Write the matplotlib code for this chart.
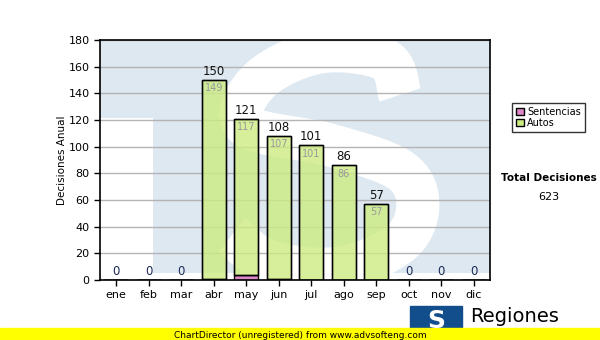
import matplotlib.pyplot as plt
import numpy as np
from matplotlib.patches import Rectangle

# Monthly data
meses = ['ene', 'feb', 'mar', 'abr', 'may', 'jun', 'jul', 'ago', 'sep', 'oct', 'nov', 'dic']
sentencias = [0, 0, 0, 1, 4, 1, 0, 0, 0, 0, 0, 0]
autos = [0, 0, 0, 149, 117, 107, 101, 86, 57, 0, 0, 0]
con_datos = [False, False, False, True, True, True, True, True, True, False, False, False]

totales = [s + a for s, a in zip(sentencias, autos)]
total_decisiones = sum(totales)

fig = plt.figure(figsize=(6, 3.4), dpi=100)
ax = fig.add_axes([100 / 600, 60 / 340, 390 / 600, 240 / 340])

# watermark logo (light blue square with a white S)
wm = '#dde8f1'
ax.add_patch(Rectangle((0, 0.03), 1, 0.97, transform=ax.transAxes, color=wm, zorder=0, lw=0))
ax.add_patch(Rectangle((0, 0), 0.136, 0.675, transform=ax.transAxes, color='white', zorder=0, lw=0))
pts = np.array([(0.769, 0.771), (0.731, 0.917), (0.564, 0.95), (0.410, 0.833), (0.372, 0.646),
                (0.590, 0.5625), (0.769, 0.458), (0.815, 0.3125), (0.769, 0.154), (0.615, 0.05),
                (0.436, 0.075), (0.338, 0.1875)])
tt = np.linspace(0, len(pts) - 1, 300)

# smooth curve via catmull-rom
def cr(p, tt):
    p = np.vstack([p[0], p, p[-1]])
    out = []
    for v in tt:
        i = min(int(v), len(p) - 4)
        u = v - i
        p0, p1, p2, p3 = p[i], p[i + 1], p[i + 2], p[i + 3]
        out.append(0.5 * ((2 * p1) + (-p0 + p2) * u + (2 * p0 - 5 * p1 + 4 * p2 - p3) * u ** 2
                          + (-p0 + 3 * p1 - 3 * p2 + p3) * u ** 3))
    return np.array(out)

curve = cr(pts, tt)
ax.plot(curve[:, 0], curve[:, 1], color='white', lw=31, transform=ax.transAxes,
        zorder=0.5, solid_capstyle='butt', solid_joinstyle='round')

x = np.arange(len(meses))
w = 0.74
ax.bar(x, sentencias, w, color='#dd88c8', edgecolor='black', lw=1, zorder=3, label='Sentencias')
ax.bar(x, autos, w, bottom=sentencias, color='#cdec82', alpha=0.8, edgecolor='black', lw=1,
       zorder=3, label='Autos')
# outline drawn separately so alpha doesn't fade edges
ax.bar(x, autos, w, bottom=sentencias, fill=False, edgecolor='black', lw=1, zorder=3.1)

for i in range(len(meses)):
    ax.text(x[i], totales[i] + 1.5, str(totales[i]), ha='center', va='bottom', fontsize=8.5,
            color='#111111' if con_datos[i] else '#1a2a55', zorder=5)
    if autos[i] > 0:
        ax.text(x[i], totales[i] - 2.5, str(autos[i]), ha='center', va='top', fontsize=7,
                color='#999999', zorder=5)

ax.set_xlim(-0.5, 11.5)
ax.set_ylim(0, 180)
ax.set_yticks(range(0, 181, 20))
ax.set_xticks(x)
ax.set_xticklabels(meses)
ax.tick_params(labelsize=8, length=4, width=1, color='black')
ax.yaxis.grid(True, color='#b4b4b4', lw=1, zorder=1)
ax.set_axisbelow(False)
for g in ax.get_ygridlines():
    g.set_zorder(1)
for s in ax.spines.values():
    s.set_linewidth(1.2)
    s.set_zorder(6)
ax.set_ylabel('Decisiones Anual', fontsize=7.5, labelpad=1)

handles, labels = ax.get_legend_handles_labels()
leg = fig.legend(handles[:2], labels[:2], loc='upper left', bbox_to_anchor=(507 / 600, 1 - 98 / 340),
                 fontsize=7, frameon=True, fancybox=False, edgecolor='black', handlelength=0.8,
                 handleheight=0.8, handletextpad=0.4, borderpad=0.4, labelspacing=0.1)
leg.get_frame().set_linewidth(1)
for h in leg.legend_handles:
    h.set_alpha(1)

fig.text(549 / 600, 1 - 178 / 340, 'Total Decisiones', ha='center', va='center', fontsize=7.5,
         fontweight='bold')
fig.text(549 / 600, 1 - 197 / 340, str(total_decisiones), ha='center', va='center', fontsize=8)

# logo at bottom right
fig.patches.append(Rectangle((410 / 600, 1 - 336 / 340), 52 / 600, 30 / 340, transform=fig.transFigure,
                             color='#134e8c', zorder=1))
fig.text(436 / 600, 1 - 321 / 340, 'S', ha='center', va='center', fontsize=18, fontweight='bold',
         color='white')
fig.text(470 / 600, 1 - 316 / 340, 'Regiones', ha='left', va='center', fontsize=14, color='black')

# unregistered banner
fig.patches.append(Rectangle((0, 0), 1, 12 / 340, transform=fig.transFigure, color='#ffff00', zorder=2))
fig.text(300 / 600, 5 / 340, 'ChartDirector (unregistered) from www.advsofteng.com', ha='center',
         va='center', fontsize=6.5, color='black', zorder=3)

fig.savefig('out.png', dpi=100)
